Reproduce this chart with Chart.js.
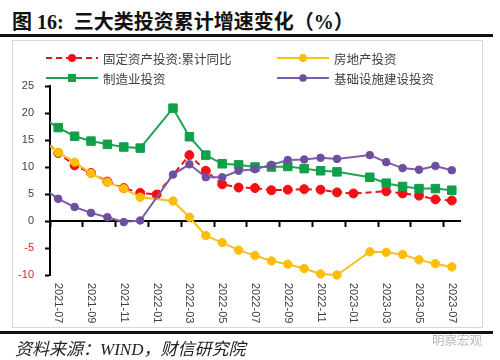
<!DOCTYPE html>
<html>
<head>
<meta charset="utf-8">
<script src="https://cdn.jsdelivr.net/npm/chart.js@4.4.0/dist/chart.umd.min.js"></script>
<style>
  body { margin: 0; width: 500px; height: 360px; background: #fff; position: relative; overflow: hidden; }
  .abs { position: absolute; }
  #title { left: 12px; top: 6px; font: bold 20px "Liberation Serif", "Noto Sans CJK SC"; color: #111; white-space: pre; }
  .rule { left: 0; width: 493px; height: 3px; background: #111; }
  #frame { left: 12px; top: 40px; width: 471px; height: 288px; border: 1.5px solid #d9d9d9; box-sizing: border-box; }
  #chart { left: 0; top: 0; }
  .item { display: flex; align-items: center; height: 16px; font: 12.5px "Noto Sans CJK SC", sans-serif; color: #404040; white-space: nowrap; }
  .item svg { margin-right: 5px; }
  #source { left: 15px; top: 335px; font: italic 17px "Liberation Serif", "Noto Sans CJK SC"; color: #222; }
  #mark { left: 432px; top: 330px; font: 12.5px "Noto Sans CJK SC", sans-serif; color: #b8b8b8; }
</style>
</head>
<body>
<div id="title" class="abs">图 16:  三大类投资累计增速变化（%）</div>
<div class="abs rule" style="top:34px"></div>
<div id="frame" class="abs"></div>
<canvas id="chart" class="abs" width="500" height="360"></canvas>
<div id="legend"></div>
<div class="abs rule" style="top:331px"></div>
<div id="source" class="abs">资料来源：WIND，财信研究院</div>
<div id="mark" class="abs">明察宏观</div>
<script>
// months (2021-06 only feeds the line coming in from the left edge)
const months = ["2021-06", "2021-07", "2021-08", "2021-09", "2021-10", "2021-11", "2021-12",
  "2022-01", "2022-02", "2022-03", "2022-04", "2022-05", "2022-06", "2022-07", "2022-08",
  "2022-09", "2022-10", "2022-11", "2022-12", "2023-01", "2023-02", "2023-03", "2023-04",
  "2023-05", "2023-06", "2023-07"];

const fixedAsset = [15.4, 12.6, 10.3, 8.9, 7.3, 6.1, 5.2, 4.9, null, 12.2, 9.3, 6.8, 6.2,
  6.1, 5.7, 5.8, 5.9, 5.8, 5.3, 5.1, null, 5.5, 5.1, 4.7, 4.0, 3.8];
const realEstate = [15.0, 12.7, 10.9, 8.8, 7.2, 6.0, 4.4, null, 3.7, 0.7, -2.7, -4.0, -5.4,
  -6.4, -7.4, -8.0, -8.8, -9.8, -10.0, null, -5.7, -5.8, -6.2, -7.2, -7.9, -8.5];
const manufacturing = [19.2, 17.3, 15.7, 14.8, 14.2, 13.7, 13.5, null, 20.9, 15.6, 12.2, 10.6, 10.4,
  10.0, 10.0, 10.1, 9.7, 9.3, 9.1, null, 8.1, 7.0, 6.4, 6.0, 6.0, 5.7];
const infrastructure = [6.3, 4.1, 2.6, 1.5, 0.7, -0.2, 0.1, null, 8.6, 10.5, 8.1, 8.1, 9.3,
  9.6, 10.4, 11.3, 11.4, 11.7, 11.5, null, 12.2, 10.9, 9.8, 9.5, 10.2, 9.4];

const yTicks = { min: -10, max: 25, step: 5 };

// rotated month labels, read top to bottom
const monthLabels = {
  id: "monthLabels",
  afterDraw(chart) {
    const x = chart.scales.x;
    const ctx = chart.ctx;
    ctx.save();
    ctx.font = '11px "Liberation Sans"';
    ctx.fillStyle = "#404040";
    ctx.textAlign = "left";
    ctx.textBaseline = "middle";
    for (let i = x.min; i <= x.max; i += 2) {
      ctx.save();
      ctx.translate(x.getPixelForValue(i), 283);
      ctx.rotate(Math.PI / 2);
      ctx.fillText(months[i], 0, 0);
      ctx.restore();
    }
    ctx.restore();
  }
};

function series(label, data, color, pointColor, style, radius, order, dash) {
  return {
    label, data, order,
    borderColor: color,
    borderWidth: 2,
    borderDash: dash || [],
    pointStyle: style,
    pointRadius: radius,
    pointBackgroundColor: pointColor,
    pointBorderColor: pointColor,
    pointBorderWidth: 1,
    tension: 0,
    spanGaps: true,
    clip: { left: 0, right: 0, top: 10, bottom: 10 }
  };
}

const chart = new Chart(document.getElementById("chart"), {
  type: "line",
  data: {
    labels: months,
    datasets: [
      series("固定资产投资:累计同比", fixedAsset, "#e3141c", "#f50f14", "circle", 4.5, 4, [6, 4]),
      series("房地产投资", realEstate, "#f5c21b", "#fcbd0c", "circle", 4.2, 3),
      series("制造业投资", manufacturing, "#1ca552", "#0fa049", "rect", 6, 2),
      series("基础设施建设投资", infrastructure, "#7b5ea9", "#6e4f9f", "circle", 3.8, 1)
    ]
  },
  options: {
    responsive: false,
    animation: false,
    events: [],
    layout: { padding: { left: 10, right: 40, top: 86, bottom: 85 } },
    plugins: { legend: { display: false }, tooltip: { enabled: false } },
    scales: {
      x: {
        type: "category",
        min: "2021-07",
        position: { y: 0 },
        offset: true,
        ticks: { display: false },
        grid: {
          offset: true,
          drawOnChartArea: false,
          tickLength: 5,
          tickWidth: 2,
          tickColor: c => c.index % 2 === 0 ? "#000" : "rgba(0,0,0,0)"
        },
        border: { color: "#000", width: 2 }
      },
      y: {
        min: yTicks.min,
        max: yTicks.max,
        ticks: {
          stepSize: yTicks.step,
          padding: 11,
          font: { family: "Liberation Sans", size: 11 },
          color: c => c.tick.value < 0 ? "#e02424" : "#404040"
        },
        grid: { drawOnChartArea: false, tickLength: 5, tickWidth: 2, tickColor: "#000" },
        border: { color: "#000", width: 2 },
        afterFit: s => { s.width = 40; }
      }
    }
  },
  plugins: [monthLabels]
});

// two-column legend built from the datasets
const legend = document.getElementById("legend");
chart.data.datasets.forEach((ds, i) => {
  const left = i % 2 === 0 ? 46 : 277;
  const top = i < 2 ? 50 : 70;
  const dash = ds.borderDash.length ? `stroke-dasharray="${ds.borderDash.join(" ")}"` : "";
  const mark = ds.pointStyle === "rect"
    ? `<rect x="22" y="2" width="8" height="8" fill="${ds.pointBackgroundColor}"/>`
    : `<circle cx="26" cy="6" r="${Math.min(ds.pointRadius, 4)}" fill="${ds.pointBackgroundColor}"/>`;
  const item = document.createElement("div");
  item.className = "abs item";
  item.style.left = left + "px";
  item.style.top = top + "px";
  item.innerHTML = `<svg width="52" height="12"><line x1="0" y1="6" x2="52" y2="6" stroke="${ds.borderColor}" stroke-width="2" ${dash}/>${mark}</svg><span>${ds.label}</span>`;
  legend.appendChild(item);
});
</script>
</body>
</html>
